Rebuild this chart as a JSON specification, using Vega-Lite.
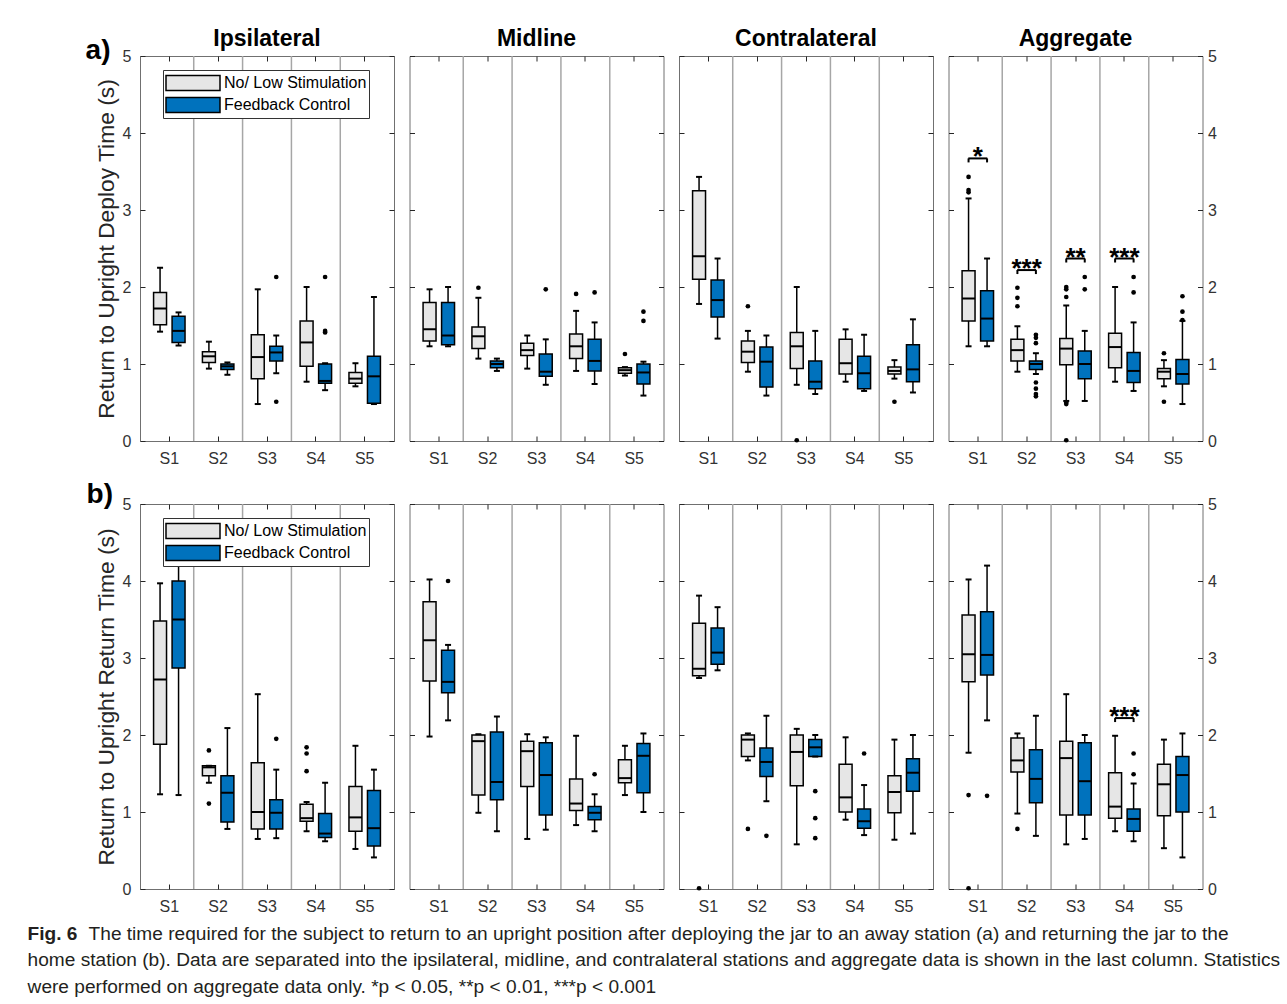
{
"$schema": "https://vega.github.io/schema/vega-lite/v6.json",
"background": "white",
"padding": {"left": 27, "top": 27, "right": 5, "bottom": 5},
"config": {
  "view": {"stroke": "#707070", "strokeWidth": 1},
  "font": "Liberation Sans",
  "axis": {"labelFont": "Liberation Sans", "labelFontSize": 16, "labelColor": "#333333", "tickColor": "#262626", "tickWidth": 1, "domain": false, "grid": false, "titleFont": "Liberation Sans", "titleFontWeight": "normal", "titleColor": "#262626", "titleFontSize": 22.8}
},
"datasets": {
"box": [
{"p":"a","loc":"I","s":"S1","c":"N","lo":1.42,"q1":1.51,"md":1.72,"q3":1.93,"hi":2.25},
{"p":"a","loc":"I","s":"S1","c":"F","lo":1.24,"q1":1.28,"md":1.43,"q3":1.62,"hi":1.67},
{"p":"a","loc":"I","s":"S2","c":"N","lo":0.94,"q1":1.02,"md":1.10,"q3":1.16,"hi":1.29},
{"p":"a","loc":"I","s":"S2","c":"F","lo":0.86,"q1":0.93,"md":0.97,"q3":1.00,"hi":1.02},
{"p":"a","loc":"I","s":"S3","c":"N","lo":0.48,"q1":0.81,"md":1.09,"q3":1.38,"hi":1.97},
{"p":"a","loc":"I","s":"S3","c":"F","lo":0.88,"q1":1.04,"md":1.15,"q3":1.23,"hi":1.37},
{"p":"a","loc":"I","s":"S4","c":"N","lo":0.77,"q1":0.97,"md":1.28,"q3":1.56,"hi":2.00},
{"p":"a","loc":"I","s":"S4","c":"F","lo":0.66,"q1":0.75,"md":0.78,"q3":1.00,"hi":1.01},
{"p":"a","loc":"I","s":"S5","c":"N","lo":0.71,"q1":0.75,"md":0.81,"q3":0.89,"hi":1.01},
{"p":"a","loc":"I","s":"S5","c":"F","lo":0.48,"q1":0.49,"md":0.84,"q3":1.10,"hi":1.87},
{"p":"a","loc":"M","s":"S1","c":"N","lo":1.23,"q1":1.30,"md":1.45,"q3":1.80,"hi":1.97},
{"p":"a","loc":"M","s":"S1","c":"F","lo":1.23,"q1":1.25,"md":1.37,"q3":1.80,"hi":2.00},
{"p":"a","loc":"M","s":"S2","c":"N","lo":1.07,"q1":1.20,"md":1.36,"q3":1.48,"hi":1.86},
{"p":"a","loc":"M","s":"S2","c":"F","lo":0.91,"q1":0.95,"md":1.00,"q3":1.04,"hi":1.07},
{"p":"a","loc":"M","s":"S3","c":"N","lo":0.94,"q1":1.11,"md":1.18,"q3":1.27,"hi":1.37},
{"p":"a","loc":"M","s":"S3","c":"F","lo":0.73,"q1":0.84,"md":0.90,"q3":1.13,"hi":1.32},
{"p":"a","loc":"M","s":"S4","c":"N","lo":0.91,"q1":1.07,"md":1.23,"q3":1.39,"hi":1.69},
{"p":"a","loc":"M","s":"S4","c":"F","lo":0.74,"q1":0.91,"md":1.04,"q3":1.32,"hi":1.54},
{"p":"a","loc":"M","s":"S5","c":"N","lo":0.85,"q1":0.88,"md":0.92,"q3":0.95,"hi":0.96},
{"p":"a","loc":"M","s":"S5","c":"F","lo":0.59,"q1":0.74,"md":0.89,"q3":1.00,"hi":1.03},
{"p":"a","loc":"C","s":"S1","c":"N","lo":1.78,"q1":2.10,"md":2.40,"q3":3.25,"hi":3.43},
{"p":"a","loc":"C","s":"S1","c":"F","lo":1.33,"q1":1.61,"md":1.83,"q3":2.09,"hi":2.37},
{"p":"a","loc":"C","s":"S2","c":"N","lo":0.90,"q1":1.02,"md":1.16,"q3":1.30,"hi":1.43},
{"p":"a","loc":"C","s":"S2","c":"F","lo":0.59,"q1":0.70,"md":1.03,"q3":1.22,"hi":1.37},
{"p":"a","loc":"C","s":"S3","c":"N","lo":0.73,"q1":0.94,"md":1.23,"q3":1.41,"hi":2.00},
{"p":"a","loc":"C","s":"S3","c":"F","lo":0.61,"q1":0.68,"md":0.77,"q3":1.04,"hi":1.43},
{"p":"a","loc":"C","s":"S4","c":"N","lo":0.77,"q1":0.87,"md":1.01,"q3":1.32,"hi":1.45},
{"p":"a","loc":"C","s":"S4","c":"F","lo":0.65,"q1":0.68,"md":0.88,"q3":1.10,"hi":1.38},
{"p":"a","loc":"C","s":"S5","c":"N","lo":0.81,"q1":0.87,"md":0.91,"q3":0.96,"hi":1.05},
{"p":"a","loc":"C","s":"S5","c":"F","lo":0.63,"q1":0.77,"md":0.93,"q3":1.25,"hi":1.58},
{"p":"a","loc":"A","s":"S1","c":"N","lo":1.23,"q1":1.56,"md":1.85,"q3":2.21,"hi":3.15},
{"p":"a","loc":"A","s":"S1","c":"F","lo":1.23,"q1":1.30,"md":1.59,"q3":1.95,"hi":2.37},
{"p":"a","loc":"A","s":"S2","c":"N","lo":0.90,"q1":1.04,"md":1.18,"q3":1.32,"hi":1.49},
{"p":"a","loc":"A","s":"S2","c":"F","lo":0.87,"q1":0.93,"md":1.00,"q3":1.04,"hi":1.14},
{"p":"a","loc":"A","s":"S3","c":"N","lo":0.52,"q1":0.99,"md":1.20,"q3":1.33,"hi":1.76},
{"p":"a","loc":"A","s":"S3","c":"F","lo":0.52,"q1":0.81,"md":1.00,"q3":1.17,"hi":1.43},
{"p":"a","loc":"A","s":"S4","c":"N","lo":0.77,"q1":0.95,"md":1.22,"q3":1.40,"hi":2.00},
{"p":"a","loc":"A","s":"S4","c":"F","lo":0.65,"q1":0.76,"md":0.91,"q3":1.15,"hi":1.54},
{"p":"a","loc":"A","s":"S5","c":"N","lo":0.71,"q1":0.81,"md":0.90,"q3":0.94,"hi":1.05},
{"p":"a","loc":"A","s":"S5","c":"F","lo":0.48,"q1":0.74,"md":0.87,"q3":1.06,"hi":1.56},
{"p":"b","loc":"I","s":"S1","c":"N","lo":1.23,"q1":1.88,"md":2.72,"q3":3.48,"hi":3.97},
{"p":"b","loc":"I","s":"S1","c":"F","lo":1.22,"q1":2.87,"md":3.50,"q3":4.00,"hi":4.25},
{"p":"b","loc":"I","s":"S2","c":"N","lo":1.38,"q1":1.47,"md":1.58,"q3":1.60,"hi":1.60},
{"p":"b","loc":"I","s":"S2","c":"F","lo":0.78,"q1":0.87,"md":1.25,"q3":1.47,"hi":2.09},
{"p":"b","loc":"I","s":"S3","c":"N","lo":0.65,"q1":0.78,"md":1.00,"q3":1.64,"hi":2.53},
{"p":"b","loc":"I","s":"S3","c":"F","lo":0.66,"q1":0.78,"md":0.99,"q3":1.16,"hi":1.55},
{"p":"b","loc":"I","s":"S4","c":"N","lo":0.75,"q1":0.88,"md":0.92,"q3":1.10,"hi":1.13},
{"p":"b","loc":"I","s":"S4","c":"F","lo":0.62,"q1":0.67,"md":0.72,"q3":0.98,"hi":1.38},
{"p":"b","loc":"I","s":"S5","c":"N","lo":0.52,"q1":0.75,"md":0.93,"q3":1.33,"hi":1.86},
{"p":"b","loc":"I","s":"S5","c":"F","lo":0.41,"q1":0.56,"md":0.79,"q3":1.28,"hi":1.55},
{"p":"b","loc":"M","s":"S1","c":"N","lo":1.98,"q1":2.70,"md":3.23,"q3":3.73,"hi":4.02},
{"p":"b","loc":"M","s":"S1","c":"F","lo":2.19,"q1":2.55,"md":2.69,"q3":3.10,"hi":3.17},
{"p":"b","loc":"M","s":"S2","c":"N","lo":0.99,"q1":1.22,"md":1.92,"q3":2.00,"hi":2.01},
{"p":"b","loc":"M","s":"S2","c":"F","lo":0.75,"q1":1.16,"md":1.39,"q3":2.04,"hi":2.24},
{"p":"b","loc":"M","s":"S3","c":"N","lo":0.65,"q1":1.33,"md":1.79,"q3":1.92,"hi":2.01},
{"p":"b","loc":"M","s":"S3","c":"F","lo":0.77,"q1":0.96,"md":1.48,"q3":1.90,"hi":1.97},
{"p":"b","loc":"M","s":"S4","c":"N","lo":0.83,"q1":1.02,"md":1.11,"q3":1.43,"hi":1.99},
{"p":"b","loc":"M","s":"S4","c":"F","lo":0.75,"q1":0.90,"md":0.99,"q3":1.07,"hi":1.23},
{"p":"b","loc":"M","s":"S5","c":"N","lo":1.22,"q1":1.38,"md":1.44,"q3":1.68,"hi":1.86},
{"p":"b","loc":"M","s":"S5","c":"F","lo":1.00,"q1":1.25,"md":1.73,"q3":1.89,"hi":2.02},
{"p":"b","loc":"C","s":"S1","c":"N","lo":2.74,"q1":2.77,"md":2.86,"q3":3.45,"hi":3.81},
{"p":"b","loc":"C","s":"S1","c":"F","lo":2.84,"q1":2.92,"md":3.07,"q3":3.39,"hi":3.66},
{"p":"b","loc":"C","s":"S2","c":"N","lo":1.67,"q1":1.72,"md":1.94,"q3":2.00,"hi":2.02},
{"p":"b","loc":"C","s":"S2","c":"F","lo":1.14,"q1":1.46,"md":1.65,"q3":1.83,"hi":2.25},
{"p":"b","loc":"C","s":"S3","c":"N","lo":0.58,"q1":1.34,"md":1.78,"q3":2.00,"hi":2.08},
{"p":"b","loc":"C","s":"S3","c":"F","lo":1.72,"q1":1.72,"md":1.84,"q3":1.94,"hi":2.00},
{"p":"b","loc":"C","s":"S4","c":"N","lo":0.90,"q1":1.00,"md":1.19,"q3":1.62,"hi":1.97},
{"p":"b","loc":"C","s":"S4","c":"F","lo":0.70,"q1":0.79,"md":0.88,"q3":1.04,"hi":1.35},
{"p":"b","loc":"C","s":"S5","c":"N","lo":0.64,"q1":0.99,"md":1.26,"q3":1.47,"hi":1.94},
{"p":"b","loc":"C","s":"S5","c":"F","lo":0.72,"q1":1.27,"md":1.51,"q3":1.69,"hi":2.00},
{"p":"b","loc":"A","s":"S1","c":"N","lo":1.77,"q1":2.69,"md":3.05,"q3":3.56,"hi":4.02},
{"p":"b","loc":"A","s":"S1","c":"F","lo":2.19,"q1":2.78,"md":3.04,"q3":3.60,"hi":4.20},
{"p":"b","loc":"A","s":"S2","c":"N","lo":0.98,"q1":1.52,"md":1.67,"q3":1.96,"hi":2.02},
{"p":"b","loc":"A","s":"S2","c":"F","lo":0.69,"q1":1.12,"md":1.43,"q3":1.81,"hi":2.25},
{"p":"b","loc":"A","s":"S3","c":"N","lo":0.58,"q1":0.96,"md":1.70,"q3":1.92,"hi":2.53},
{"p":"b","loc":"A","s":"S3","c":"F","lo":0.65,"q1":0.96,"md":1.40,"q3":1.90,"hi":2.00},
{"p":"b","loc":"A","s":"S4","c":"N","lo":0.75,"q1":0.92,"md":1.07,"q3":1.51,"hi":1.99},
{"p":"b","loc":"A","s":"S4","c":"F","lo":0.62,"q1":0.75,"md":0.91,"q3":1.04,"hi":1.37},
{"p":"b","loc":"A","s":"S5","c":"N","lo":0.53,"q1":0.95,"md":1.36,"q3":1.62,"hi":1.94},
{"p":"b","loc":"A","s":"S5","c":"F","lo":0.41,"q1":1.00,"md":1.48,"q3":1.72,"hi":2.02}
],
"out": [
{"p":"a","loc":"I","s":"S3","c":"F","v":2.13},
{"p":"a","loc":"I","s":"S3","c":"F","v":0.51},
{"p":"a","loc":"I","s":"S4","c":"F","v":2.13},
{"p":"a","loc":"I","s":"S4","c":"F","v":1.43},
{"p":"a","loc":"I","s":"S4","c":"F","v":1.41},
{"p":"a","loc":"M","s":"S2","c":"N","v":1.99},
{"p":"a","loc":"M","s":"S3","c":"F","v":1.97},
{"p":"a","loc":"M","s":"S4","c":"N","v":1.91},
{"p":"a","loc":"M","s":"S4","c":"F","v":1.93},
{"p":"a","loc":"M","s":"S5","c":"N","v":1.13},
{"p":"a","loc":"M","s":"S5","c":"F","v":1.68},
{"p":"a","loc":"M","s":"S5","c":"F","v":1.56},
{"p":"a","loc":"C","s":"S2","c":"N","v":1.75},
{"p":"a","loc":"C","s":"S3","c":"N","v":0.01},
{"p":"a","loc":"C","s":"S5","c":"N","v":0.51},
{"p":"a","loc":"A","s":"S1","c":"N","v":3.43},
{"p":"a","loc":"A","s":"S1","c":"N","v":3.26},
{"p":"a","loc":"A","s":"S1","c":"N","v":3.23},
{"p":"a","loc":"A","s":"S2","c":"N","v":1.99},
{"p":"a","loc":"A","s":"S2","c":"N","v":1.86},
{"p":"a","loc":"A","s":"S2","c":"N","v":1.75},
{"p":"a","loc":"A","s":"S2","c":"F","v":1.38},
{"p":"a","loc":"A","s":"S2","c":"F","v":1.34},
{"p":"a","loc":"A","s":"S2","c":"F","v":1.27},
{"p":"a","loc":"A","s":"S2","c":"F","v":0.76},
{"p":"a","loc":"A","s":"S2","c":"F","v":0.68},
{"p":"a","loc":"A","s":"S2","c":"F","v":0.61},
{"p":"a","loc":"A","s":"S2","c":"F","v":0.58},
{"p":"a","loc":"A","s":"S3","c":"N","v":2.00},
{"p":"a","loc":"A","s":"S3","c":"N","v":1.97},
{"p":"a","loc":"A","s":"S3","c":"N","v":1.87},
{"p":"a","loc":"A","s":"S3","c":"N","v":0.50},
{"p":"a","loc":"A","s":"S3","c":"N","v":0.48},
{"p":"a","loc":"A","s":"S3","c":"N","v":0.01},
{"p":"a","loc":"A","s":"S3","c":"F","v":2.13},
{"p":"a","loc":"A","s":"S3","c":"F","v":1.97},
{"p":"a","loc":"A","s":"S4","c":"F","v":2.13},
{"p":"a","loc":"A","s":"S4","c":"F","v":1.93},
{"p":"a","loc":"A","s":"S5","c":"N","v":1.14},
{"p":"a","loc":"A","s":"S5","c":"N","v":0.51},
{"p":"a","loc":"A","s":"S5","c":"F","v":1.88},
{"p":"a","loc":"A","s":"S5","c":"F","v":1.68},
{"p":"a","loc":"A","s":"S5","c":"F","v":1.57},
{"p":"b","loc":"I","s":"S2","c":"N","v":1.80},
{"p":"b","loc":"I","s":"S2","c":"N","v":1.11},
{"p":"b","loc":"I","s":"S3","c":"F","v":1.95},
{"p":"b","loc":"I","s":"S4","c":"N","v":1.84},
{"p":"b","loc":"I","s":"S4","c":"N","v":1.76},
{"p":"b","loc":"I","s":"S4","c":"N","v":1.53},
{"p":"b","loc":"M","s":"S1","c":"F","v":4.00},
{"p":"b","loc":"M","s":"S4","c":"F","v":1.49},
{"p":"b","loc":"C","s":"S1","c":"N","v":0.01},
{"p":"b","loc":"C","s":"S2","c":"N","v":0.78},
{"p":"b","loc":"C","s":"S2","c":"F","v":0.69},
{"p":"b","loc":"C","s":"S3","c":"F","v":1.27},
{"p":"b","loc":"C","s":"S3","c":"F","v":0.92},
{"p":"b","loc":"C","s":"S3","c":"F","v":0.66},
{"p":"b","loc":"C","s":"S4","c":"F","v":1.76},
{"p":"b","loc":"A","s":"S1","c":"N","v":1.22},
{"p":"b","loc":"A","s":"S1","c":"N","v":0.01},
{"p":"b","loc":"A","s":"S1","c":"F","v":1.21},
{"p":"b","loc":"A","s":"S2","c":"N","v":0.78},
{"p":"b","loc":"A","s":"S4","c":"F","v":1.76},
{"p":"b","loc":"A","s":"S4","c":"F","v":1.49}
],
"sig": [
{"p":"a","s":"S1","c":"N","y":3.67,"lab":"*"},
{"p":"a","s":"S1","c":"F","y":3.67,"lab":"*"},
{"p":"a","s":"S2","c":"N","y":2.22,"lab":"***"},
{"p":"a","s":"S2","c":"F","y":2.22,"lab":"***"},
{"p":"a","s":"S3","c":"N","y":2.37,"lab":"**"},
{"p":"a","s":"S3","c":"F","y":2.37,"lab":"**"},
{"p":"a","s":"S4","c":"N","y":2.37,"lab":"***"},
{"p":"a","s":"S4","c":"F","y":2.37,"lab":"***"},
{"p":"b","s":"S4","c":"N","y":2.22,"lab":"***"},
{"p":"b","s":"S4","c":"F","y":2.22,"lab":"***"}
]
},
"title": {
  "text": "Fig. 6",
  "subtitle": ["home station (b). Data are separated into the ipsilateral, midline, and contralateral stations and aggregate data is shown in the last column. Statistics", "were performed on aggregate data only. *p < 0.05, **p < 0.01, ***p < 0.001"],
  "orient": "bottom", "anchor": "start", "frame": "bounds",
  "font": "Liberation Sans", "fontSize": 19.1, "fontWeight": "bold", "color": "#231f20",
  "subtitleFont": "Liberation Sans", "subtitleFontSize": 19.1, "subtitleColor": "#231f20", "subtitleLineHeight": 26.5, "subtitlePadding": 7.4,
  "offset": -19.1, "dx": -58
},
"resolve": {"legend": {"fill": "independent"}},
"vconcat": [
{
"title": {"text": "The time required for the subject to return to an upright position after deploying the jar to an away station (a) and returning the jar to the", "orient": "bottom", "anchor": "start", "frame": "bounds", "font": "Liberation Sans", "fontSize": 19.1, "fontWeight": "normal", "color": "#231f20", "offset": 10, "dx": 3},
"spacing": 13,
"resolve": {"legend": {"fill": "independent"}},
"vconcat": [
{
"title": {"text": "a)", "anchor": "start", "frame": "bounds", "fontSize": 28, "fontWeight": "bold", "color": "black", "font": "Liberation Sans", "dx": -9, "dy": 37, "offset": 0},
"spacing": 13.5,
"resolve": {"legend": {"fill": "independent"}},
"hconcat": [
{
"width": 254, "height": 385,
"title": {"text": "Ipsilateral", "fontSize": 23, "fontWeight": "bold", "color": "black", "font": "Liberation Sans", "offset": -3},
"layer": [
{"data": {"name": "box"}, "transform": [{"filter": "datum.p=='a' && datum.loc=='I' && datum.c=='N' && datum.s!='S1'"}], "mark": {"type": "rule", "color": "#a6a6a6", "strokeWidth": 1.5},
 "encoding": {"x": {"field": "s", "type": "nominal", "bandPosition": 0, "scale": {"type": "band", "domain": ["S1","S2","S3","S4","S5"], "paddingInner": 0, "paddingOuter": 0.1}, "axis": null}}},
{"data": {"name": "box"}, "transform": [{"filter": "datum.p=='a' && datum.loc=='I'"}], "mark": {"type": "rule", "color": "black", "strokeWidth": 1.5},
 "encoding": {"x": {"field": "s", "type": "nominal", "scale": {"type": "band", "domain": ["S1","S2","S3","S4","S5"], "paddingInner": 0, "paddingOuter": 0.1}, "axis": {"orient": "bottom", "tickSize": -5, "labelPadding": 14, "labelAngle": 0, "title": null}},
  "xOffset": {"field": "c", "type": "nominal", "scale": {"domain": ["N","F"], "paddingInner": 0.3, "paddingOuter": 0.47}},
  "y": {"field": "lo", "type": "quantitative", "scale": {"domain": [0,5], "nice": false, "zero": false}, "axis": {"orient": "left", "values": [0,1,2,3,4,5], "tickSize": -5, "labelPadding": 14, "title": "Return to Upright Deploy Time (s)", "titlePadding": 4}},
  "y2": {"field": "hi"}}},
{"data": {"name": "box"}, "transform": [{"filter": "datum.p=='a' && datum.loc=='I'"}], "mark": {"type": "bar", "stroke": "black", "strokeWidth": 1.5},
 "encoding": {"x": {"field": "s", "type": "nominal", "scale": {"type": "band", "domain": ["S1","S2","S3","S4","S5"], "paddingInner": 0, "paddingOuter": 0.1}, "axis": {"orient": "top", "tickSize": -5, "labels": false, "title": null}},
  "xOffset": {"field": "c", "type": "nominal", "scale": {"domain": ["N","F"], "paddingInner": 0.3, "paddingOuter": 0.47}},
  "y": {"field": "q1", "type": "quantitative", "scale": {"domain": [0,5], "nice": false, "zero": false}, "axis": {"orient": "right", "values": [0,1,2,3,4,5], "tickSize": -5, "labels": false, "title": null}},
  "y2": {"field": "q3"},
  "fill": {"field": "c", "type": "nominal", "scale": {"domain": ["N","F"], "range": ["#e6e6e6", "#0072bd"]}, "legend": {"orient": "none", "legendX": 23, "legendY": 14, "title": null, "labelExpr": "datum.value=='N' ? 'No/ Low Stimulation' : 'Feedback Control'", "symbolType": "M-1,-0.75H4.4V0.75H-1Z", "symbolSize": 400, "symbolStrokeColor": "black", "symbolStrokeWidth": 1.5, "symbolOpacity": 1, "labelFontSize": 16, "labelColor": "black", "labelFont": "Liberation Sans", "labelOffset": 37, "strokeColor": "#333333", "fillColor": "white", "padding": 2, "rowPadding": -2}}}},
{"data": {"name": "box"}, "transform": [{"filter": "datum.p=='a' && datum.loc=='I'"}], "mark": {"type": "tick", "color": "black", "size": 13, "thickness": 2, "opacity": 1},
 "encoding": {"x": {"field": "s", "type": "nominal", "scale": {"type": "band", "domain": ["S1","S2","S3","S4","S5"], "paddingInner": 0, "paddingOuter": 0.1}, "axis": null},
  "xOffset": {"field": "c", "type": "nominal", "scale": {"domain": ["N","F"], "paddingInner": 0.3, "paddingOuter": 0.47}},
  "y": {"field": "md", "type": "quantitative", "scale": {"domain": [0,5], "nice": false, "zero": false}, "axis": null}}},
{"data": {"name": "box"}, "transform": [{"filter": "datum.p=='a' && datum.loc=='I'"}], "mark": {"type": "tick", "color": "black", "size": 6, "thickness": 2, "opacity": 1},
 "encoding": {"x": {"field": "s", "type": "nominal", "scale": {"type": "band", "domain": ["S1","S2","S3","S4","S5"], "paddingInner": 0, "paddingOuter": 0.1}, "axis": null},
  "xOffset": {"field": "c", "type": "nominal", "scale": {"domain": ["N","F"], "paddingInner": 0.3, "paddingOuter": 0.47}},
  "y": {"field": "lo", "type": "quantitative", "scale": {"domain": [0,5], "nice": false, "zero": false}, "axis": null}}},
{"data": {"name": "box"}, "transform": [{"filter": "datum.p=='a' && datum.loc=='I'"}], "mark": {"type": "tick", "color": "black", "size": 6, "thickness": 2, "opacity": 1},
 "encoding": {"x": {"field": "s", "type": "nominal", "scale": {"type": "band", "domain": ["S1","S2","S3","S4","S5"], "paddingInner": 0, "paddingOuter": 0.1}, "axis": null},
  "xOffset": {"field": "c", "type": "nominal", "scale": {"domain": ["N","F"], "paddingInner": 0.3, "paddingOuter": 0.47}},
  "y": {"field": "hi", "type": "quantitative", "scale": {"domain": [0,5], "nice": false, "zero": false}, "axis": null}}},
{"data": {"name": "out"}, "transform": [{"filter": "datum.p=='a' && datum.loc=='I'"}], "mark": {"type": "point", "filled": true, "color": "black", "size": 22, "opacity": 1},
 "encoding": {"x": {"field": "s", "type": "nominal", "scale": {"type": "band", "domain": ["S1","S2","S3","S4","S5"], "paddingInner": 0, "paddingOuter": 0.1}, "axis": null},
  "xOffset": {"field": "c", "type": "nominal", "scale": {"domain": ["N","F"], "paddingInner": 0.3, "paddingOuter": 0.47}},
  "y": {"field": "v", "type": "quantitative", "scale": {"domain": [0,5], "nice": false, "zero": false}, "axis": null}}}
],
"resolve": {"axis": {"x": "independent", "y": "independent"}}
},
{
"width": 254, "height": 385,
"title": {"text": "Midline", "fontSize": 23, "fontWeight": "bold", "color": "black", "font": "Liberation Sans", "offset": 4},
"layer": [
{"data": {"name": "box"}, "transform": [{"filter": "datum.p=='a' && datum.loc=='M' && datum.c=='N' && datum.s!='S1'"}], "mark": {"type": "rule", "color": "#a6a6a6", "strokeWidth": 1.5},
 "encoding": {"x": {"field": "s", "type": "nominal", "bandPosition": 0, "scale": {"type": "band", "domain": ["S1","S2","S3","S4","S5"], "paddingInner": 0, "paddingOuter": 0.1}, "axis": null}}},
{"data": {"name": "box"}, "transform": [{"filter": "datum.p=='a' && datum.loc=='M'"}], "mark": {"type": "rule", "color": "black", "strokeWidth": 1.5},
 "encoding": {"x": {"field": "s", "type": "nominal", "scale": {"type": "band", "domain": ["S1","S2","S3","S4","S5"], "paddingInner": 0, "paddingOuter": 0.1}, "axis": {"orient": "bottom", "tickSize": -5, "labelPadding": 14, "labelAngle": 0, "title": null}},
  "xOffset": {"field": "c", "type": "nominal", "scale": {"domain": ["N","F"], "paddingInner": 0.3, "paddingOuter": 0.47}},
  "y": {"field": "lo", "type": "quantitative", "scale": {"domain": [0,5], "nice": false, "zero": false}, "axis": {"orient": "left", "values": [0,1,2,3,4,5], "tickSize": -5, "labels": false, "title": null}},
  "y2": {"field": "hi"}}},
{"data": {"name": "box"}, "transform": [{"filter": "datum.p=='a' && datum.loc=='M'"}], "mark": {"type": "bar", "stroke": "black", "strokeWidth": 1.5},
 "encoding": {"x": {"field": "s", "type": "nominal", "scale": {"type": "band", "domain": ["S1","S2","S3","S4","S5"], "paddingInner": 0, "paddingOuter": 0.1}, "axis": {"orient": "top", "tickSize": -5, "labels": false, "title": null}},
  "xOffset": {"field": "c", "type": "nominal", "scale": {"domain": ["N","F"], "paddingInner": 0.3, "paddingOuter": 0.47}},
  "y": {"field": "q1", "type": "quantitative", "scale": {"domain": [0,5], "nice": false, "zero": false}, "axis": {"orient": "right", "values": [0,1,2,3,4,5], "tickSize": -5, "labels": false, "title": null}},
  "y2": {"field": "q3"},
  "fill": {"field": "c", "type": "nominal", "scale": {"domain": ["N","F"], "range": ["#e6e6e6", "#0072bd"]}, "legend": null}}},
{"data": {"name": "box"}, "transform": [{"filter": "datum.p=='a' && datum.loc=='M'"}], "mark": {"type": "tick", "color": "black", "size": 13, "thickness": 2, "opacity": 1},
 "encoding": {"x": {"field": "s", "type": "nominal", "scale": {"type": "band", "domain": ["S1","S2","S3","S4","S5"], "paddingInner": 0, "paddingOuter": 0.1}, "axis": null},
  "xOffset": {"field": "c", "type": "nominal", "scale": {"domain": ["N","F"], "paddingInner": 0.3, "paddingOuter": 0.47}},
  "y": {"field": "md", "type": "quantitative", "scale": {"domain": [0,5], "nice": false, "zero": false}, "axis": null}}},
{"data": {"name": "box"}, "transform": [{"filter": "datum.p=='a' && datum.loc=='M'"}], "mark": {"type": "tick", "color": "black", "size": 6, "thickness": 2, "opacity": 1},
 "encoding": {"x": {"field": "s", "type": "nominal", "scale": {"type": "band", "domain": ["S1","S2","S3","S4","S5"], "paddingInner": 0, "paddingOuter": 0.1}, "axis": null},
  "xOffset": {"field": "c", "type": "nominal", "scale": {"domain": ["N","F"], "paddingInner": 0.3, "paddingOuter": 0.47}},
  "y": {"field": "lo", "type": "quantitative", "scale": {"domain": [0,5], "nice": false, "zero": false}, "axis": null}}},
{"data": {"name": "box"}, "transform": [{"filter": "datum.p=='a' && datum.loc=='M'"}], "mark": {"type": "tick", "color": "black", "size": 6, "thickness": 2, "opacity": 1},
 "encoding": {"x": {"field": "s", "type": "nominal", "scale": {"type": "band", "domain": ["S1","S2","S3","S4","S5"], "paddingInner": 0, "paddingOuter": 0.1}, "axis": null},
  "xOffset": {"field": "c", "type": "nominal", "scale": {"domain": ["N","F"], "paddingInner": 0.3, "paddingOuter": 0.47}},
  "y": {"field": "hi", "type": "quantitative", "scale": {"domain": [0,5], "nice": false, "zero": false}, "axis": null}}},
{"data": {"name": "out"}, "transform": [{"filter": "datum.p=='a' && datum.loc=='M'"}], "mark": {"type": "point", "filled": true, "color": "black", "size": 22, "opacity": 1},
 "encoding": {"x": {"field": "s", "type": "nominal", "scale": {"type": "band", "domain": ["S1","S2","S3","S4","S5"], "paddingInner": 0, "paddingOuter": 0.1}, "axis": null},
  "xOffset": {"field": "c", "type": "nominal", "scale": {"domain": ["N","F"], "paddingInner": 0.3, "paddingOuter": 0.47}},
  "y": {"field": "v", "type": "quantitative", "scale": {"domain": [0,5], "nice": false, "zero": false}, "axis": null}}}
],
"resolve": {"axis": {"x": "independent", "y": "independent"}}
},
{
"width": 254, "height": 385,
"title": {"text": "Contralateral", "fontSize": 23, "fontWeight": "bold", "color": "black", "font": "Liberation Sans", "offset": 4},
"layer": [
{"data": {"name": "box"}, "transform": [{"filter": "datum.p=='a' && datum.loc=='C' && datum.c=='N' && datum.s!='S1'"}], "mark": {"type": "rule", "color": "#a6a6a6", "strokeWidth": 1.5},
 "encoding": {"x": {"field": "s", "type": "nominal", "bandPosition": 0, "scale": {"type": "band", "domain": ["S1","S2","S3","S4","S5"], "paddingInner": 0, "paddingOuter": 0.1}, "axis": null}}},
{"data": {"name": "box"}, "transform": [{"filter": "datum.p=='a' && datum.loc=='C'"}], "mark": {"type": "rule", "color": "black", "strokeWidth": 1.5},
 "encoding": {"x": {"field": "s", "type": "nominal", "scale": {"type": "band", "domain": ["S1","S2","S3","S4","S5"], "paddingInner": 0, "paddingOuter": 0.1}, "axis": {"orient": "bottom", "tickSize": -5, "labelPadding": 14, "labelAngle": 0, "title": null}},
  "xOffset": {"field": "c", "type": "nominal", "scale": {"domain": ["N","F"], "paddingInner": 0.3, "paddingOuter": 0.47}},
  "y": {"field": "lo", "type": "quantitative", "scale": {"domain": [0,5], "nice": false, "zero": false}, "axis": {"orient": "left", "values": [0,1,2,3,4,5], "tickSize": -5, "labels": false, "title": null}},
  "y2": {"field": "hi"}}},
{"data": {"name": "box"}, "transform": [{"filter": "datum.p=='a' && datum.loc=='C'"}], "mark": {"type": "bar", "stroke": "black", "strokeWidth": 1.5},
 "encoding": {"x": {"field": "s", "type": "nominal", "scale": {"type": "band", "domain": ["S1","S2","S3","S4","S5"], "paddingInner": 0, "paddingOuter": 0.1}, "axis": {"orient": "top", "tickSize": -5, "labels": false, "title": null}},
  "xOffset": {"field": "c", "type": "nominal", "scale": {"domain": ["N","F"], "paddingInner": 0.3, "paddingOuter": 0.47}},
  "y": {"field": "q1", "type": "quantitative", "scale": {"domain": [0,5], "nice": false, "zero": false}, "axis": {"orient": "right", "values": [0,1,2,3,4,5], "tickSize": -5, "labels": false, "title": null}},
  "y2": {"field": "q3"},
  "fill": {"field": "c", "type": "nominal", "scale": {"domain": ["N","F"], "range": ["#e6e6e6", "#0072bd"]}, "legend": null}}},
{"data": {"name": "box"}, "transform": [{"filter": "datum.p=='a' && datum.loc=='C'"}], "mark": {"type": "tick", "color": "black", "size": 13, "thickness": 2, "opacity": 1},
 "encoding": {"x": {"field": "s", "type": "nominal", "scale": {"type": "band", "domain": ["S1","S2","S3","S4","S5"], "paddingInner": 0, "paddingOuter": 0.1}, "axis": null},
  "xOffset": {"field": "c", "type": "nominal", "scale": {"domain": ["N","F"], "paddingInner": 0.3, "paddingOuter": 0.47}},
  "y": {"field": "md", "type": "quantitative", "scale": {"domain": [0,5], "nice": false, "zero": false}, "axis": null}}},
{"data": {"name": "box"}, "transform": [{"filter": "datum.p=='a' && datum.loc=='C'"}], "mark": {"type": "tick", "color": "black", "size": 6, "thickness": 2, "opacity": 1},
 "encoding": {"x": {"field": "s", "type": "nominal", "scale": {"type": "band", "domain": ["S1","S2","S3","S4","S5"], "paddingInner": 0, "paddingOuter": 0.1}, "axis": null},
  "xOffset": {"field": "c", "type": "nominal", "scale": {"domain": ["N","F"], "paddingInner": 0.3, "paddingOuter": 0.47}},
  "y": {"field": "lo", "type": "quantitative", "scale": {"domain": [0,5], "nice": false, "zero": false}, "axis": null}}},
{"data": {"name": "box"}, "transform": [{"filter": "datum.p=='a' && datum.loc=='C'"}], "mark": {"type": "tick", "color": "black", "size": 6, "thickness": 2, "opacity": 1},
 "encoding": {"x": {"field": "s", "type": "nominal", "scale": {"type": "band", "domain": ["S1","S2","S3","S4","S5"], "paddingInner": 0, "paddingOuter": 0.1}, "axis": null},
  "xOffset": {"field": "c", "type": "nominal", "scale": {"domain": ["N","F"], "paddingInner": 0.3, "paddingOuter": 0.47}},
  "y": {"field": "hi", "type": "quantitative", "scale": {"domain": [0,5], "nice": false, "zero": false}, "axis": null}}},
{"data": {"name": "out"}, "transform": [{"filter": "datum.p=='a' && datum.loc=='C'"}], "mark": {"type": "point", "filled": true, "color": "black", "size": 22, "opacity": 1},
 "encoding": {"x": {"field": "s", "type": "nominal", "scale": {"type": "band", "domain": ["S1","S2","S3","S4","S5"], "paddingInner": 0, "paddingOuter": 0.1}, "axis": null},
  "xOffset": {"field": "c", "type": "nominal", "scale": {"domain": ["N","F"], "paddingInner": 0.3, "paddingOuter": 0.47}},
  "y": {"field": "v", "type": "quantitative", "scale": {"domain": [0,5], "nice": false, "zero": false}, "axis": null}}}
],
"resolve": {"axis": {"x": "independent", "y": "independent"}}
},
{
"width": 254, "height": 385,
"title": {"text": "Aggregate", "fontSize": 23, "fontWeight": "bold", "color": "black", "font": "Liberation Sans", "offset": -3},
"layer": [
{"data": {"name": "box"}, "transform": [{"filter": "datum.p=='a' && datum.loc=='A' && datum.c=='N' && datum.s!='S1'"}], "mark": {"type": "rule", "color": "#a6a6a6", "strokeWidth": 1.5},
 "encoding": {"x": {"field": "s", "type": "nominal", "bandPosition": 0, "scale": {"type": "band", "domain": ["S1","S2","S3","S4","S5"], "paddingInner": 0, "paddingOuter": 0.1}, "axis": null}}},
{"data": {"name": "box"}, "transform": [{"filter": "datum.p=='a' && datum.loc=='A'"}], "mark": {"type": "rule", "color": "black", "strokeWidth": 1.5},
 "encoding": {"x": {"field": "s", "type": "nominal", "scale": {"type": "band", "domain": ["S1","S2","S3","S4","S5"], "paddingInner": 0, "paddingOuter": 0.1}, "axis": {"orient": "bottom", "tickSize": -5, "labelPadding": 14, "labelAngle": 0, "title": null}},
  "xOffset": {"field": "c", "type": "nominal", "scale": {"domain": ["N","F"], "paddingInner": 0.3, "paddingOuter": 0.47}},
  "y": {"field": "lo", "type": "quantitative", "scale": {"domain": [0,5], "nice": false, "zero": false}, "axis": {"orient": "left", "values": [0,1,2,3,4,5], "tickSize": -5, "labels": false, "title": null}},
  "y2": {"field": "hi"}}},
{"data": {"name": "box"}, "transform": [{"filter": "datum.p=='a' && datum.loc=='A'"}], "mark": {"type": "bar", "stroke": "black", "strokeWidth": 1.5},
 "encoding": {"x": {"field": "s", "type": "nominal", "scale": {"type": "band", "domain": ["S1","S2","S3","S4","S5"], "paddingInner": 0, "paddingOuter": 0.1}, "axis": {"orient": "top", "tickSize": -5, "labels": false, "title": null}},
  "xOffset": {"field": "c", "type": "nominal", "scale": {"domain": ["N","F"], "paddingInner": 0.3, "paddingOuter": 0.47}},
  "y": {"field": "q1", "type": "quantitative", "scale": {"domain": [0,5], "nice": false, "zero": false}, "axis": {"orient": "right", "values": [0,1,2,3,4,5], "tickSize": -5, "labelPadding": 10, "title": null}},
  "y2": {"field": "q3"},
  "fill": {"field": "c", "type": "nominal", "scale": {"domain": ["N","F"], "range": ["#e6e6e6", "#0072bd"]}, "legend": null}}},
{"data": {"name": "box"}, "transform": [{"filter": "datum.p=='a' && datum.loc=='A'"}], "mark": {"type": "tick", "color": "black", "size": 13, "thickness": 2, "opacity": 1},
 "encoding": {"x": {"field": "s", "type": "nominal", "scale": {"type": "band", "domain": ["S1","S2","S3","S4","S5"], "paddingInner": 0, "paddingOuter": 0.1}, "axis": null},
  "xOffset": {"field": "c", "type": "nominal", "scale": {"domain": ["N","F"], "paddingInner": 0.3, "paddingOuter": 0.47}},
  "y": {"field": "md", "type": "quantitative", "scale": {"domain": [0,5], "nice": false, "zero": false}, "axis": null}}},
{"data": {"name": "box"}, "transform": [{"filter": "datum.p=='a' && datum.loc=='A'"}], "mark": {"type": "tick", "color": "black", "size": 6, "thickness": 2, "opacity": 1},
 "encoding": {"x": {"field": "s", "type": "nominal", "scale": {"type": "band", "domain": ["S1","S2","S3","S4","S5"], "paddingInner": 0, "paddingOuter": 0.1}, "axis": null},
  "xOffset": {"field": "c", "type": "nominal", "scale": {"domain": ["N","F"], "paddingInner": 0.3, "paddingOuter": 0.47}},
  "y": {"field": "lo", "type": "quantitative", "scale": {"domain": [0,5], "nice": false, "zero": false}, "axis": null}}},
{"data": {"name": "box"}, "transform": [{"filter": "datum.p=='a' && datum.loc=='A'"}], "mark": {"type": "tick", "color": "black", "size": 6, "thickness": 2, "opacity": 1},
 "encoding": {"x": {"field": "s", "type": "nominal", "scale": {"type": "band", "domain": ["S1","S2","S3","S4","S5"], "paddingInner": 0, "paddingOuter": 0.1}, "axis": null},
  "xOffset": {"field": "c", "type": "nominal", "scale": {"domain": ["N","F"], "paddingInner": 0.3, "paddingOuter": 0.47}},
  "y": {"field": "hi", "type": "quantitative", "scale": {"domain": [0,5], "nice": false, "zero": false}, "axis": null}}},
{"data": {"name": "out"}, "transform": [{"filter": "datum.p=='a' && datum.loc=='A'"}], "mark": {"type": "point", "filled": true, "color": "black", "size": 22, "opacity": 1},
 "encoding": {"x": {"field": "s", "type": "nominal", "scale": {"type": "band", "domain": ["S1","S2","S3","S4","S5"], "paddingInner": 0, "paddingOuter": 0.1}, "axis": null},
  "xOffset": {"field": "c", "type": "nominal", "scale": {"domain": ["N","F"], "paddingInner": 0.3, "paddingOuter": 0.47}},
  "y": {"field": "v", "type": "quantitative", "scale": {"domain": [0,5], "nice": false, "zero": false}, "axis": null}}},
{"data": {"name": "sig"}, "transform": [{"filter": "datum.p=='a' && datum.c=='N'"}], "mark": {"type": "tick", "color": "black", "size": 19, "thickness": 2, "opacity": 1},
 "encoding": {"x": {"field": "s", "type": "nominal", "scale": {"type": "band", "domain": ["S1","S2","S3","S4","S5"], "paddingInner": 0, "paddingOuter": 0.1}, "axis": null},
  "y": {"field": "y", "type": "quantitative", "scale": {"domain": [0,5], "nice": false, "zero": false}, "axis": null}}},
{"data": {"name": "sig"}, "transform": [{"filter": "datum.p=='a'"}], "mark": {"type": "rule", "color": "black", "strokeWidth": 2, "y2Offset": 4},
 "encoding": {"x": {"field": "s", "type": "nominal", "scale": {"type": "band", "domain": ["S1","S2","S3","S4","S5"], "paddingInner": 0, "paddingOuter": 0.1}, "axis": null},
  "xOffset": {"field": "c", "type": "nominal", "scale": {"domain": ["N","F"], "paddingInner": 0.3, "paddingOuter": 0.47}},
  "y": {"field": "y", "type": "quantitative", "scale": {"domain": [0,5], "nice": false, "zero": false}, "axis": null}, "y2": {"field": "y"}}},
{"data": {"name": "sig"}, "transform": [{"filter": "datum.p=='a' && datum.c=='N'"}], "mark": {"type": "text", "fontSize": 26, "fontWeight": "bold", "color": "black", "font": "Liberation Sans", "baseline": "alphabetic", "dy": 7},
 "encoding": {"x": {"field": "s", "type": "nominal", "scale": {"type": "band", "domain": ["S1","S2","S3","S4","S5"], "paddingInner": 0, "paddingOuter": 0.1}, "axis": null},
  "y": {"field": "y", "type": "quantitative", "scale": {"domain": [0,5], "nice": false, "zero": false}, "axis": null}, "text": {"field": "lab"}}}
],
"resolve": {"axis": {"x": "independent", "y": "independent"}}
}
]
},
{
"title": {"text": "b)", "anchor": "start", "frame": "bounds", "fontSize": 28, "fontWeight": "bold", "color": "black", "font": "Liberation Sans", "dx": -8, "dy": 13, "offset": 0},
"spacing": 13.5,
"resolve": {"legend": {"fill": "independent"}},
"hconcat": [
{
"width": 254, "height": 385,
"layer": [
{"data": {"name": "box"}, "transform": [{"filter": "datum.p=='b' && datum.loc=='I' && datum.c=='N' && datum.s!='S1'"}], "mark": {"type": "rule", "color": "#a6a6a6", "strokeWidth": 1.5},
 "encoding": {"x": {"field": "s", "type": "nominal", "bandPosition": 0, "scale": {"type": "band", "domain": ["S1","S2","S3","S4","S5"], "paddingInner": 0, "paddingOuter": 0.1}, "axis": null}}},
{"data": {"name": "box"}, "transform": [{"filter": "datum.p=='b' && datum.loc=='I'"}], "mark": {"type": "rule", "color": "black", "strokeWidth": 1.5},
 "encoding": {"x": {"field": "s", "type": "nominal", "scale": {"type": "band", "domain": ["S1","S2","S3","S4","S5"], "paddingInner": 0, "paddingOuter": 0.1}, "axis": {"orient": "bottom", "tickSize": -5, "labelPadding": 14, "labelAngle": 0, "title": null}},
  "xOffset": {"field": "c", "type": "nominal", "scale": {"domain": ["N","F"], "paddingInner": 0.3, "paddingOuter": 0.47}},
  "y": {"field": "lo", "type": "quantitative", "scale": {"domain": [0,5], "nice": false, "zero": false}, "axis": {"orient": "left", "values": [0,1,2,3,4,5], "tickSize": -5, "labelPadding": 14, "title": "Return to Upright Return Time (s)", "titlePadding": 4}},
  "y2": {"field": "hi"}}},
{"data": {"name": "box"}, "transform": [{"filter": "datum.p=='b' && datum.loc=='I'"}], "mark": {"type": "bar", "stroke": "black", "strokeWidth": 1.5},
 "encoding": {"x": {"field": "s", "type": "nominal", "scale": {"type": "band", "domain": ["S1","S2","S3","S4","S5"], "paddingInner": 0, "paddingOuter": 0.1}, "axis": {"orient": "top", "tickSize": -5, "labels": false, "title": null}},
  "xOffset": {"field": "c", "type": "nominal", "scale": {"domain": ["N","F"], "paddingInner": 0.3, "paddingOuter": 0.47}},
  "y": {"field": "q1", "type": "quantitative", "scale": {"domain": [0,5], "nice": false, "zero": false}, "axis": {"orient": "right", "values": [0,1,2,3,4,5], "tickSize": -5, "labels": false, "title": null}},
  "y2": {"field": "q3"},
  "fill": {"field": "c", "type": "nominal", "scale": {"domain": ["N","F"], "range": ["#e6e6e6", "#0072bd"]}, "legend": {"orient": "none", "legendX": 23, "legendY": 14, "title": null, "labelExpr": "datum.value=='N' ? 'No/ Low Stimulation' : 'Feedback Control'", "symbolType": "M-1,-0.75H4.4V0.75H-1Z", "symbolSize": 400, "symbolStrokeColor": "black", "symbolStrokeWidth": 1.5, "symbolOpacity": 1, "labelFontSize": 16, "labelColor": "black", "labelFont": "Liberation Sans", "labelOffset": 37, "strokeColor": "#333333", "fillColor": "white", "padding": 2, "rowPadding": -2}}}},
{"data": {"name": "box"}, "transform": [{"filter": "datum.p=='b' && datum.loc=='I'"}], "mark": {"type": "tick", "color": "black", "size": 13, "thickness": 2, "opacity": 1},
 "encoding": {"x": {"field": "s", "type": "nominal", "scale": {"type": "band", "domain": ["S1","S2","S3","S4","S5"], "paddingInner": 0, "paddingOuter": 0.1}, "axis": null},
  "xOffset": {"field": "c", "type": "nominal", "scale": {"domain": ["N","F"], "paddingInner": 0.3, "paddingOuter": 0.47}},
  "y": {"field": "md", "type": "quantitative", "scale": {"domain": [0,5], "nice": false, "zero": false}, "axis": null}}},
{"data": {"name": "box"}, "transform": [{"filter": "datum.p=='b' && datum.loc=='I'"}], "mark": {"type": "tick", "color": "black", "size": 6, "thickness": 2, "opacity": 1},
 "encoding": {"x": {"field": "s", "type": "nominal", "scale": {"type": "band", "domain": ["S1","S2","S3","S4","S5"], "paddingInner": 0, "paddingOuter": 0.1}, "axis": null},
  "xOffset": {"field": "c", "type": "nominal", "scale": {"domain": ["N","F"], "paddingInner": 0.3, "paddingOuter": 0.47}},
  "y": {"field": "lo", "type": "quantitative", "scale": {"domain": [0,5], "nice": false, "zero": false}, "axis": null}}},
{"data": {"name": "box"}, "transform": [{"filter": "datum.p=='b' && datum.loc=='I'"}], "mark": {"type": "tick", "color": "black", "size": 6, "thickness": 2, "opacity": 1},
 "encoding": {"x": {"field": "s", "type": "nominal", "scale": {"type": "band", "domain": ["S1","S2","S3","S4","S5"], "paddingInner": 0, "paddingOuter": 0.1}, "axis": null},
  "xOffset": {"field": "c", "type": "nominal", "scale": {"domain": ["N","F"], "paddingInner": 0.3, "paddingOuter": 0.47}},
  "y": {"field": "hi", "type": "quantitative", "scale": {"domain": [0,5], "nice": false, "zero": false}, "axis": null}}},
{"data": {"name": "out"}, "transform": [{"filter": "datum.p=='b' && datum.loc=='I'"}], "mark": {"type": "point", "filled": true, "color": "black", "size": 22, "opacity": 1},
 "encoding": {"x": {"field": "s", "type": "nominal", "scale": {"type": "band", "domain": ["S1","S2","S3","S4","S5"], "paddingInner": 0, "paddingOuter": 0.1}, "axis": null},
  "xOffset": {"field": "c", "type": "nominal", "scale": {"domain": ["N","F"], "paddingInner": 0.3, "paddingOuter": 0.47}},
  "y": {"field": "v", "type": "quantitative", "scale": {"domain": [0,5], "nice": false, "zero": false}, "axis": null}}}
],
"resolve": {"axis": {"x": "independent", "y": "independent"}}
},
{
"width": 254, "height": 385,
"layer": [
{"data": {"name": "box"}, "transform": [{"filter": "datum.p=='b' && datum.loc=='M' && datum.c=='N' && datum.s!='S1'"}], "mark": {"type": "rule", "color": "#a6a6a6", "strokeWidth": 1.5},
 "encoding": {"x": {"field": "s", "type": "nominal", "bandPosition": 0, "scale": {"type": "band", "domain": ["S1","S2","S3","S4","S5"], "paddingInner": 0, "paddingOuter": 0.1}, "axis": null}}},
{"data": {"name": "box"}, "transform": [{"filter": "datum.p=='b' && datum.loc=='M'"}], "mark": {"type": "rule", "color": "black", "strokeWidth": 1.5},
 "encoding": {"x": {"field": "s", "type": "nominal", "scale": {"type": "band", "domain": ["S1","S2","S3","S4","S5"], "paddingInner": 0, "paddingOuter": 0.1}, "axis": {"orient": "bottom", "tickSize": -5, "labelPadding": 14, "labelAngle": 0, "title": null}},
  "xOffset": {"field": "c", "type": "nominal", "scale": {"domain": ["N","F"], "paddingInner": 0.3, "paddingOuter": 0.47}},
  "y": {"field": "lo", "type": "quantitative", "scale": {"domain": [0,5], "nice": false, "zero": false}, "axis": {"orient": "left", "values": [0,1,2,3,4,5], "tickSize": -5, "labels": false, "title": null}},
  "y2": {"field": "hi"}}},
{"data": {"name": "box"}, "transform": [{"filter": "datum.p=='b' && datum.loc=='M'"}], "mark": {"type": "bar", "stroke": "black", "strokeWidth": 1.5},
 "encoding": {"x": {"field": "s", "type": "nominal", "scale": {"type": "band", "domain": ["S1","S2","S3","S4","S5"], "paddingInner": 0, "paddingOuter": 0.1}, "axis": {"orient": "top", "tickSize": -5, "labels": false, "title": null}},
  "xOffset": {"field": "c", "type": "nominal", "scale": {"domain": ["N","F"], "paddingInner": 0.3, "paddingOuter": 0.47}},
  "y": {"field": "q1", "type": "quantitative", "scale": {"domain": [0,5], "nice": false, "zero": false}, "axis": {"orient": "right", "values": [0,1,2,3,4,5], "tickSize": -5, "labels": false, "title": null}},
  "y2": {"field": "q3"},
  "fill": {"field": "c", "type": "nominal", "scale": {"domain": ["N","F"], "range": ["#e6e6e6", "#0072bd"]}, "legend": null}}},
{"data": {"name": "box"}, "transform": [{"filter": "datum.p=='b' && datum.loc=='M'"}], "mark": {"type": "tick", "color": "black", "size": 13, "thickness": 2, "opacity": 1},
 "encoding": {"x": {"field": "s", "type": "nominal", "scale": {"type": "band", "domain": ["S1","S2","S3","S4","S5"], "paddingInner": 0, "paddingOuter": 0.1}, "axis": null},
  "xOffset": {"field": "c", "type": "nominal", "scale": {"domain": ["N","F"], "paddingInner": 0.3, "paddingOuter": 0.47}},
  "y": {"field": "md", "type": "quantitative", "scale": {"domain": [0,5], "nice": false, "zero": false}, "axis": null}}},
{"data": {"name": "box"}, "transform": [{"filter": "datum.p=='b' && datum.loc=='M'"}], "mark": {"type": "tick", "color": "black", "size": 6, "thickness": 2, "opacity": 1},
 "encoding": {"x": {"field": "s", "type": "nominal", "scale": {"type": "band", "domain": ["S1","S2","S3","S4","S5"], "paddingInner": 0, "paddingOuter": 0.1}, "axis": null},
  "xOffset": {"field": "c", "type": "nominal", "scale": {"domain": ["N","F"], "paddingInner": 0.3, "paddingOuter": 0.47}},
  "y": {"field": "lo", "type": "quantitative", "scale": {"domain": [0,5], "nice": false, "zero": false}, "axis": null}}},
{"data": {"name": "box"}, "transform": [{"filter": "datum.p=='b' && datum.loc=='M'"}], "mark": {"type": "tick", "color": "black", "size": 6, "thickness": 2, "opacity": 1},
 "encoding": {"x": {"field": "s", "type": "nominal", "scale": {"type": "band", "domain": ["S1","S2","S3","S4","S5"], "paddingInner": 0, "paddingOuter": 0.1}, "axis": null},
  "xOffset": {"field": "c", "type": "nominal", "scale": {"domain": ["N","F"], "paddingInner": 0.3, "paddingOuter": 0.47}},
  "y": {"field": "hi", "type": "quantitative", "scale": {"domain": [0,5], "nice": false, "zero": false}, "axis": null}}},
{"data": {"name": "out"}, "transform": [{"filter": "datum.p=='b' && datum.loc=='M'"}], "mark": {"type": "point", "filled": true, "color": "black", "size": 22, "opacity": 1},
 "encoding": {"x": {"field": "s", "type": "nominal", "scale": {"type": "band", "domain": ["S1","S2","S3","S4","S5"], "paddingInner": 0, "paddingOuter": 0.1}, "axis": null},
  "xOffset": {"field": "c", "type": "nominal", "scale": {"domain": ["N","F"], "paddingInner": 0.3, "paddingOuter": 0.47}},
  "y": {"field": "v", "type": "quantitative", "scale": {"domain": [0,5], "nice": false, "zero": false}, "axis": null}}}
],
"resolve": {"axis": {"x": "independent", "y": "independent"}}
},
{
"width": 254, "height": 385,
"layer": [
{"data": {"name": "box"}, "transform": [{"filter": "datum.p=='b' && datum.loc=='C' && datum.c=='N' && datum.s!='S1'"}], "mark": {"type": "rule", "color": "#a6a6a6", "strokeWidth": 1.5},
 "encoding": {"x": {"field": "s", "type": "nominal", "bandPosition": 0, "scale": {"type": "band", "domain": ["S1","S2","S3","S4","S5"], "paddingInner": 0, "paddingOuter": 0.1}, "axis": null}}},
{"data": {"name": "box"}, "transform": [{"filter": "datum.p=='b' && datum.loc=='C'"}], "mark": {"type": "rule", "color": "black", "strokeWidth": 1.5},
 "encoding": {"x": {"field": "s", "type": "nominal", "scale": {"type": "band", "domain": ["S1","S2","S3","S4","S5"], "paddingInner": 0, "paddingOuter": 0.1}, "axis": {"orient": "bottom", "tickSize": -5, "labelPadding": 14, "labelAngle": 0, "title": null}},
  "xOffset": {"field": "c", "type": "nominal", "scale": {"domain": ["N","F"], "paddingInner": 0.3, "paddingOuter": 0.47}},
  "y": {"field": "lo", "type": "quantitative", "scale": {"domain": [0,5], "nice": false, "zero": false}, "axis": {"orient": "left", "values": [0,1,2,3,4,5], "tickSize": -5, "labels": false, "title": null}},
  "y2": {"field": "hi"}}},
{"data": {"name": "box"}, "transform": [{"filter": "datum.p=='b' && datum.loc=='C'"}], "mark": {"type": "bar", "stroke": "black", "strokeWidth": 1.5},
 "encoding": {"x": {"field": "s", "type": "nominal", "scale": {"type": "band", "domain": ["S1","S2","S3","S4","S5"], "paddingInner": 0, "paddingOuter": 0.1}, "axis": {"orient": "top", "tickSize": -5, "labels": false, "title": null}},
  "xOffset": {"field": "c", "type": "nominal", "scale": {"domain": ["N","F"], "paddingInner": 0.3, "paddingOuter": 0.47}},
  "y": {"field": "q1", "type": "quantitative", "scale": {"domain": [0,5], "nice": false, "zero": false}, "axis": {"orient": "right", "values": [0,1,2,3,4,5], "tickSize": -5, "labels": false, "title": null}},
  "y2": {"field": "q3"},
  "fill": {"field": "c", "type": "nominal", "scale": {"domain": ["N","F"], "range": ["#e6e6e6", "#0072bd"]}, "legend": null}}},
{"data": {"name": "box"}, "transform": [{"filter": "datum.p=='b' && datum.loc=='C'"}], "mark": {"type": "tick", "color": "black", "size": 13, "thickness": 2, "opacity": 1},
 "encoding": {"x": {"field": "s", "type": "nominal", "scale": {"type": "band", "domain": ["S1","S2","S3","S4","S5"], "paddingInner": 0, "paddingOuter": 0.1}, "axis": null},
  "xOffset": {"field": "c", "type": "nominal", "scale": {"domain": ["N","F"], "paddingInner": 0.3, "paddingOuter": 0.47}},
  "y": {"field": "md", "type": "quantitative", "scale": {"domain": [0,5], "nice": false, "zero": false}, "axis": null}}},
{"data": {"name": "box"}, "transform": [{"filter": "datum.p=='b' && datum.loc=='C'"}], "mark": {"type": "tick", "color": "black", "size": 6, "thickness": 2, "opacity": 1},
 "encoding": {"x": {"field": "s", "type": "nominal", "scale": {"type": "band", "domain": ["S1","S2","S3","S4","S5"], "paddingInner": 0, "paddingOuter": 0.1}, "axis": null},
  "xOffset": {"field": "c", "type": "nominal", "scale": {"domain": ["N","F"], "paddingInner": 0.3, "paddingOuter": 0.47}},
  "y": {"field": "lo", "type": "quantitative", "scale": {"domain": [0,5], "nice": false, "zero": false}, "axis": null}}},
{"data": {"name": "box"}, "transform": [{"filter": "datum.p=='b' && datum.loc=='C'"}], "mark": {"type": "tick", "color": "black", "size": 6, "thickness": 2, "opacity": 1},
 "encoding": {"x": {"field": "s", "type": "nominal", "scale": {"type": "band", "domain": ["S1","S2","S3","S4","S5"], "paddingInner": 0, "paddingOuter": 0.1}, "axis": null},
  "xOffset": {"field": "c", "type": "nominal", "scale": {"domain": ["N","F"], "paddingInner": 0.3, "paddingOuter": 0.47}},
  "y": {"field": "hi", "type": "quantitative", "scale": {"domain": [0,5], "nice": false, "zero": false}, "axis": null}}},
{"data": {"name": "out"}, "transform": [{"filter": "datum.p=='b' && datum.loc=='C'"}], "mark": {"type": "point", "filled": true, "color": "black", "size": 22, "opacity": 1},
 "encoding": {"x": {"field": "s", "type": "nominal", "scale": {"type": "band", "domain": ["S1","S2","S3","S4","S5"], "paddingInner": 0, "paddingOuter": 0.1}, "axis": null},
  "xOffset": {"field": "c", "type": "nominal", "scale": {"domain": ["N","F"], "paddingInner": 0.3, "paddingOuter": 0.47}},
  "y": {"field": "v", "type": "quantitative", "scale": {"domain": [0,5], "nice": false, "zero": false}, "axis": null}}}
],
"resolve": {"axis": {"x": "independent", "y": "independent"}}
},
{
"width": 254, "height": 385,
"layer": [
{"data": {"name": "box"}, "transform": [{"filter": "datum.p=='b' && datum.loc=='A' && datum.c=='N' && datum.s!='S1'"}], "mark": {"type": "rule", "color": "#a6a6a6", "strokeWidth": 1.5},
 "encoding": {"x": {"field": "s", "type": "nominal", "bandPosition": 0, "scale": {"type": "band", "domain": ["S1","S2","S3","S4","S5"], "paddingInner": 0, "paddingOuter": 0.1}, "axis": null}}},
{"data": {"name": "box"}, "transform": [{"filter": "datum.p=='b' && datum.loc=='A'"}], "mark": {"type": "rule", "color": "black", "strokeWidth": 1.5},
 "encoding": {"x": {"field": "s", "type": "nominal", "scale": {"type": "band", "domain": ["S1","S2","S3","S4","S5"], "paddingInner": 0, "paddingOuter": 0.1}, "axis": {"orient": "bottom", "tickSize": -5, "labelPadding": 14, "labelAngle": 0, "title": null}},
  "xOffset": {"field": "c", "type": "nominal", "scale": {"domain": ["N","F"], "paddingInner": 0.3, "paddingOuter": 0.47}},
  "y": {"field": "lo", "type": "quantitative", "scale": {"domain": [0,5], "nice": false, "zero": false}, "axis": {"orient": "left", "values": [0,1,2,3,4,5], "tickSize": -5, "labels": false, "title": null}},
  "y2": {"field": "hi"}}},
{"data": {"name": "box"}, "transform": [{"filter": "datum.p=='b' && datum.loc=='A'"}], "mark": {"type": "bar", "stroke": "black", "strokeWidth": 1.5},
 "encoding": {"x": {"field": "s", "type": "nominal", "scale": {"type": "band", "domain": ["S1","S2","S3","S4","S5"], "paddingInner": 0, "paddingOuter": 0.1}, "axis": {"orient": "top", "tickSize": -5, "labels": false, "title": null}},
  "xOffset": {"field": "c", "type": "nominal", "scale": {"domain": ["N","F"], "paddingInner": 0.3, "paddingOuter": 0.47}},
  "y": {"field": "q1", "type": "quantitative", "scale": {"domain": [0,5], "nice": false, "zero": false}, "axis": {"orient": "right", "values": [0,1,2,3,4,5], "tickSize": -5, "labelPadding": 10, "title": null}},
  "y2": {"field": "q3"},
  "fill": {"field": "c", "type": "nominal", "scale": {"domain": ["N","F"], "range": ["#e6e6e6", "#0072bd"]}, "legend": null}}},
{"data": {"name": "box"}, "transform": [{"filter": "datum.p=='b' && datum.loc=='A'"}], "mark": {"type": "tick", "color": "black", "size": 13, "thickness": 2, "opacity": 1},
 "encoding": {"x": {"field": "s", "type": "nominal", "scale": {"type": "band", "domain": ["S1","S2","S3","S4","S5"], "paddingInner": 0, "paddingOuter": 0.1}, "axis": null},
  "xOffset": {"field": "c", "type": "nominal", "scale": {"domain": ["N","F"], "paddingInner": 0.3, "paddingOuter": 0.47}},
  "y": {"field": "md", "type": "quantitative", "scale": {"domain": [0,5], "nice": false, "zero": false}, "axis": null}}},
{"data": {"name": "box"}, "transform": [{"filter": "datum.p=='b' && datum.loc=='A'"}], "mark": {"type": "tick", "color": "black", "size": 6, "thickness": 2, "opacity": 1},
 "encoding": {"x": {"field": "s", "type": "nominal", "scale": {"type": "band", "domain": ["S1","S2","S3","S4","S5"], "paddingInner": 0, "paddingOuter": 0.1}, "axis": null},
  "xOffset": {"field": "c", "type": "nominal", "scale": {"domain": ["N","F"], "paddingInner": 0.3, "paddingOuter": 0.47}},
  "y": {"field": "lo", "type": "quantitative", "scale": {"domain": [0,5], "nice": false, "zero": false}, "axis": null}}},
{"data": {"name": "box"}, "transform": [{"filter": "datum.p=='b' && datum.loc=='A'"}], "mark": {"type": "tick", "color": "black", "size": 6, "thickness": 2, "opacity": 1},
 "encoding": {"x": {"field": "s", "type": "nominal", "scale": {"type": "band", "domain": ["S1","S2","S3","S4","S5"], "paddingInner": 0, "paddingOuter": 0.1}, "axis": null},
  "xOffset": {"field": "c", "type": "nominal", "scale": {"domain": ["N","F"], "paddingInner": 0.3, "paddingOuter": 0.47}},
  "y": {"field": "hi", "type": "quantitative", "scale": {"domain": [0,5], "nice": false, "zero": false}, "axis": null}}},
{"data": {"name": "out"}, "transform": [{"filter": "datum.p=='b' && datum.loc=='A'"}], "mark": {"type": "point", "filled": true, "color": "black", "size": 22, "opacity": 1},
 "encoding": {"x": {"field": "s", "type": "nominal", "scale": {"type": "band", "domain": ["S1","S2","S3","S4","S5"], "paddingInner": 0, "paddingOuter": 0.1}, "axis": null},
  "xOffset": {"field": "c", "type": "nominal", "scale": {"domain": ["N","F"], "paddingInner": 0.3, "paddingOuter": 0.47}},
  "y": {"field": "v", "type": "quantitative", "scale": {"domain": [0,5], "nice": false, "zero": false}, "axis": null}}},
{"data": {"name": "sig"}, "transform": [{"filter": "datum.p=='b' && datum.c=='N'"}], "mark": {"type": "tick", "color": "black", "size": 19, "thickness": 2, "opacity": 1},
 "encoding": {"x": {"field": "s", "type": "nominal", "scale": {"type": "band", "domain": ["S1","S2","S3","S4","S5"], "paddingInner": 0, "paddingOuter": 0.1}, "axis": null},
  "y": {"field": "y", "type": "quantitative", "scale": {"domain": [0,5], "nice": false, "zero": false}, "axis": null}}},
{"data": {"name": "sig"}, "transform": [{"filter": "datum.p=='b'"}], "mark": {"type": "rule", "color": "black", "strokeWidth": 2, "y2Offset": 4},
 "encoding": {"x": {"field": "s", "type": "nominal", "scale": {"type": "band", "domain": ["S1","S2","S3","S4","S5"], "paddingInner": 0, "paddingOuter": 0.1}, "axis": null},
  "xOffset": {"field": "c", "type": "nominal", "scale": {"domain": ["N","F"], "paddingInner": 0.3, "paddingOuter": 0.47}},
  "y": {"field": "y", "type": "quantitative", "scale": {"domain": [0,5], "nice": false, "zero": false}, "axis": null}, "y2": {"field": "y"}}},
{"data": {"name": "sig"}, "transform": [{"filter": "datum.p=='b' && datum.c=='N'"}], "mark": {"type": "text", "fontSize": 26, "fontWeight": "bold", "color": "black", "font": "Liberation Sans", "baseline": "alphabetic", "dy": 7},
 "encoding": {"x": {"field": "s", "type": "nominal", "scale": {"type": "band", "domain": ["S1","S2","S3","S4","S5"], "paddingInner": 0, "paddingOuter": 0.1}, "axis": null},
  "y": {"field": "y", "type": "quantitative", "scale": {"domain": [0,5], "nice": false, "zero": false}, "axis": null}, "text": {"field": "lab"}}}
],
"resolve": {"axis": {"x": "independent", "y": "independent"}}
}
]
}
]
}
]
}
